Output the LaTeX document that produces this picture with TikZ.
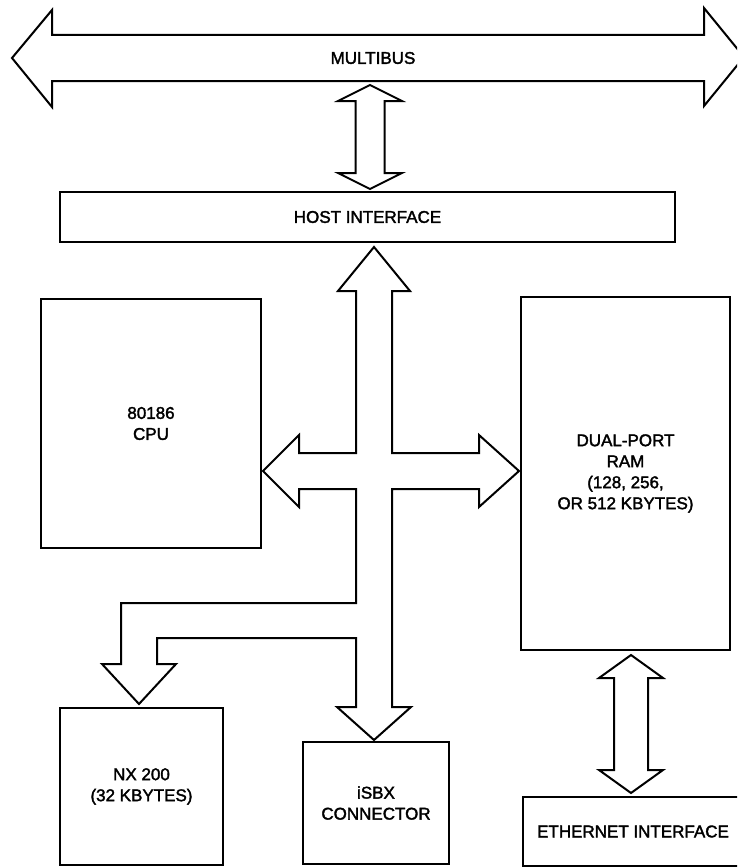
\documentclass[tikz,border=0pt]{standalone}
\usepackage{fontspec}
\setmainfont{Liberation Sans}
\newfontfamily\boxfont{Liberation Sans}[FakeBold=2]
\usepackage{tikz}
\usetikzlibrary{calc, positioning}
\tikzset{
unit/.style={
  draw, rectangle,
  line width=2pt,
  inner sep=0pt,
  align=center,
  font=\boxfont\fontsize{17}{21}\selectfont
},
hollow/.style={draw, line width=2pt, line join=miter, fill=white},
}
% vertical hollow double arrow: top tip, bottom tip, half shaft, head length
\newcommand{\bothways}[4]{
  \draw[hollow] (#1) -- ++(32,#4) -- ($(#1)+(#3,#4)$) -- ($(#2)+(#3,-#4)$)
    -- ++(32-#3,0) -- (#2) -- ++(-32,-#4) -- ($(#2)+(-#3,-#4)$)
    -- ($(#1)+(-#3,#4)$) -- ++(#3-32,0) -- cycle;
}

\begin{document}
\begin{tikzpicture}[x=1pt, y=-1pt]
  \clip (0,0) rectangle (737,867);
  \fill[white] (0,0) rectangle (737,867);

  % multibus
  \draw[hollow] (12,58) -- (52,10) -- (52,35) -- (704,35) -- (704,8)
    -- (744,57) -- (704,106) -- (704,81) -- (52,81) -- (52,107) -- cycle;
  \node[font=\boxfont\fontsize{17}{21}\selectfont] (bus) at (373,58) {MULTIBUS};

  \node[unit, minimum width=615, minimum height=50] (host) at (367.5,217) {HOST INTERFACE};
  \node[unit, minimum width=220, minimum height=249] (cpu) at (151,423.5) {80186\\CPU};
  \node[unit, minimum width=209, minimum height=353] (ram) at (625.5,473.5)
    {DUAL-PORT\\RAM\\(128, 256,\\OR 512 KBYTES)};
  \node[unit, minimum width=163, minimum height=157] (nx) at (141.5,786.5) {NX 200\\(32 KBYTES)};
  \node[unit, minimum width=146, minimum height=122] (isbx) at (376,803) {iSBX\\CONNECTOR};
  \node[unit, minimum width=220, minimum height=69] (eth) at (633,831.5) {ETHERNET INTERFACE};

  \coordinate (bustap) at (370,85);
  \coordinate (hostin) at ($(host.north -| bustap)+(0,-2)$);
  \coordinate (ramtap) at ($(ram.south -| 631,0)+(0,4)$);
  \coordinate (ethin) at ($(eth.north -| 631,0)+(0,-3)$);

  \bothways{bustap}{hostin}{14.5}{16}
  \bothways{ramtap}{ethin}{17}{23}

  % local bus
  \draw[hollow] (374,247) -- (410,291) -- (392,291) -- (392,453) -- (479,453)
    -- (479,435) -- (519,471) -- (479,507) -- (479,489) -- (392,489)
    -- (392,707) -- (411,707) -- (374,740) -- (337,707) -- (356,707)
    -- (356,638) -- (157,638) -- (157,664) -- (176,664) -- (139,704)
    -- (102,664) -- (121,664) -- (121,603) -- (356,603) -- (356,489)
    -- (299,489) -- (299,507) -- (263,471) -- (299,435) -- (299,453)
    -- (356,453) -- (356,291) -- (338,291) -- cycle;
\end{tikzpicture}
\end{document}
